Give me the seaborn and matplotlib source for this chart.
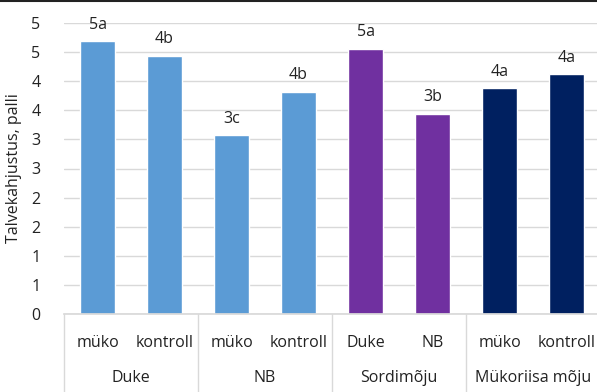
import pandas as pd
import matplotlib.pyplot as plt
import matplotlib.transforms as mtransforms
from matplotlib.lines import Line2D
import seaborn as sns
import numpy as np

groups = ["Duke", "NB", "Sordimõju", "Mükoriisa mõju"]
sub_labels = ["müko", "kontroll", "müko", "kontroll", "Duke", "NB", "müko", "kontroll"]
values = [4.69, 4.44, 3.07, 3.82, 4.56, 3.44, 3.88, 4.12]
letters = ["5a", "4b", "3c", "4b", "5a", "3b", "4a", "4a"]
bar_colors = ["#5B9BD5", "#5B9BD5", "#5B9BD5", "#5B9BD5", "#7030A0", "#7030A0", "#002060", "#002060"]
ytick_values = [0, 0.5, 1, 1.5, 2, 2.5, 3, 3.5, 4, 4.5, 5]
ytick_labels = ["0", "1", "1", "2", "2", "3", "3", "4", "4", "5", "5"]

ids = [f"{i}_{s}" for i, s in enumerate(sub_labels)]
df = pd.DataFrame({"id": ids, "value": values})

sns.set_theme(style="white")
plt.rcParams["font.family"] = ["Open Sans", "DejaVu Sans"]
txt = "#222222"
fs = 11.5

fig = plt.figure(figsize=(5.97, 3.92), dpi=100)
ax = fig.add_axes([64 / 597, 1 - 314 / 392, 536 / 597, 291 / 392])

sns.barplot(data=df, x="id", y="value", hue="id", order=ids, hue_order=ids,
            palette=bar_colors, width=0.52, legend=False, saturation=1, ax=ax)

for cont, lab in zip(ax.containers, letters):
    ax.bar_label(cont, labels=[lab], padding=6, fontsize=fs, color=txt)

ax.set_ylim(0, 5)
ax.set_xlim(-0.5, 7.5)
ax.set_yticks(ytick_values)
ax.set_yticklabels(ytick_labels, fontsize=fs, color=txt)
ax.yaxis.grid(True, color="#D9D9D9", lw=1)
ax.set_axisbelow(True)
ax.tick_params(axis="y", length=0, pad=17)
ax.set_ylabel("Talvekahjustus, palli", fontsize=fs, color=txt, labelpad=7)
ax.set_xlabel("")
for s in ["left", "right", "top"]:
    ax.spines[s].set_visible(False)
ax.spines["bottom"].set_color("#D9D9D9")

ax.set_xticks(range(len(sub_labels)))
ax.set_xticklabels(sub_labels, fontsize=fs, color=txt)
ax.tick_params(axis="x", length=0, pad=15)

trans = mtransforms.blended_transform_factory(ax.transData, ax.transAxes)
below = -78 / 291
for b in [-0.5, 1.5, 3.5, 5.5, 7.5]:
    ax.add_line(Line2D([b, b], [0, below], transform=trans, color="#D9D9D9",
                       lw=1, clip_on=False))
for gi, g in enumerate(groups):
    ax.text(gi * 2 + 0.5, -64 / 291, g, transform=trans, ha="center", va="center",
            fontsize=fs, color=txt)

fig.add_artist(Line2D([0, 1], [0.997, 0.997], transform=fig.transFigure, color="#222222", lw=1.5))

fig.savefig("out.png", dpi=100)
